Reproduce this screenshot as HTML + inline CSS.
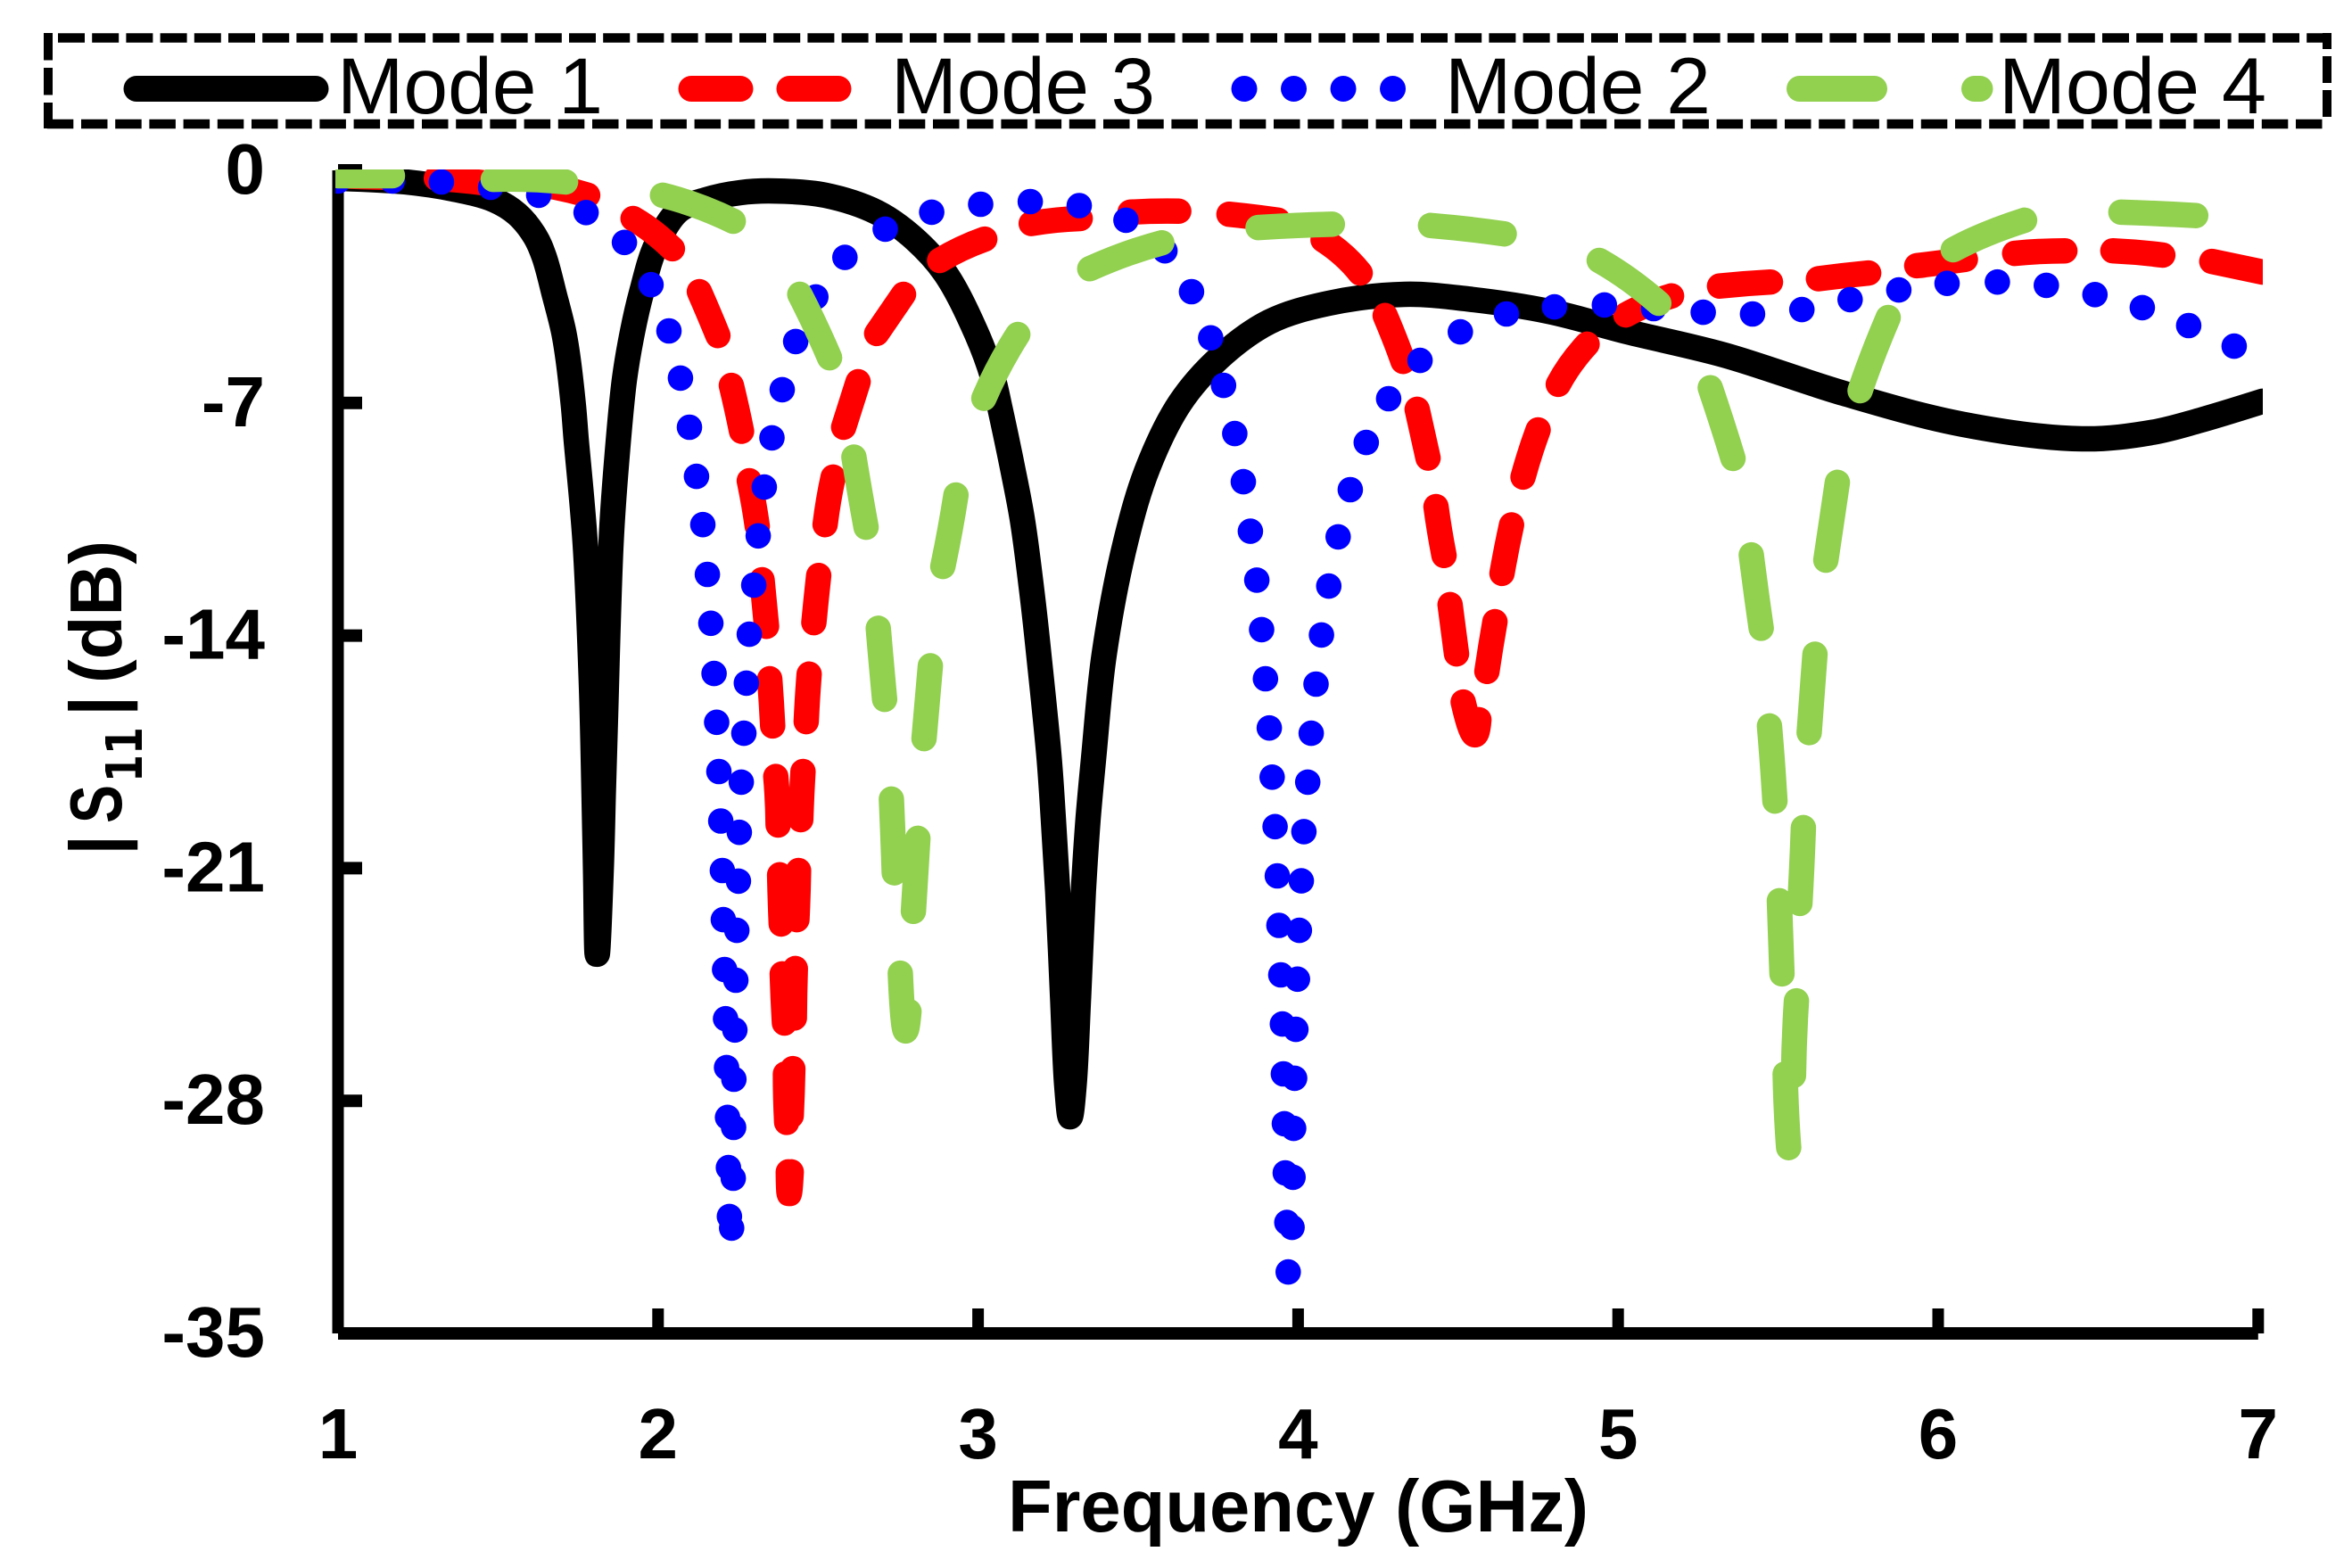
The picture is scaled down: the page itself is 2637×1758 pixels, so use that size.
<!DOCTYPE html>
<html lang="en">
<head>
<meta charset="utf-8">
<title>S11 versus frequency for four modes</title>
<style>
html,body{margin:0;padding:0;background:#fff;}
svg{display:block;}
text{font-family:"Liberation Sans",sans-serif;fill:#000;}
.legend-text{font-size:89px;}
.tick-text{font-size:80px;font-weight:bold;}
.title-text{font-size:83px;font-weight:bold;}
.sub-text{font-family:"DejaVu Sans",sans-serif;font-size:56px;font-weight:bold;}
</style>
</head>
<body>
<svg id="chart" xmlns="http://www.w3.org/2000/svg" width="2637" height="1758" viewBox="0 0 2637 1758">
  <defs>
    <clipPath id="plot-clip"><rect x="376" y="190" width="2161" height="1330"/></clipPath>
  </defs>
  <rect x="0" y="0" width="2637" height="1758" fill="#fff"/>

  <g id="axes"></g>
  <g id="series" clip-path="url(#plot-clip)"></g>

  <g>
    <line x1="65" y1="42.5" x2="2609" y2="42.5" stroke="#000" stroke-width="10.5" stroke-dasharray="30 8.2"/>
    <line x1="52.8" y1="139" x2="2608" y2="139" stroke="#000" stroke-width="10.5" stroke-dasharray="29.5 8.7"/>
    <line x1="54" y1="37" x2="54" y2="144" stroke="#000" stroke-width="10" stroke-dasharray="30.5 8.5"/>
    <line x1="2609" y1="37" x2="2609" y2="131" stroke="#000" stroke-width="10" stroke-dasharray="30 8" stroke-dashoffset="12"/>

    <g>
      <line x1="153" y1="99.5" x2="354" y2="99.5" stroke="#000" stroke-width="29" stroke-linecap="round"/>
      <text class="legend-text" x="378" y="127" textLength="298" lengthAdjust="spacingAndGlyphs">Mode 1</text>
    </g>
    <g>
      <line x1="775" y1="99.5" x2="976" y2="99.5" stroke="#f00" stroke-width="29" stroke-linecap="round" stroke-dasharray="55 55"/>
      <text class="legend-text" x="999" y="127" textLength="296" lengthAdjust="spacingAndGlyphs">Mode 3</text>
    </g>
    <g>
      <line x1="1395" y1="99.5" x2="1570" y2="99.5" stroke="#00f" stroke-width="29" stroke-linecap="round" stroke-dasharray="0.01 55.5"/>
      <text class="legend-text" x="1620" y="127" textLength="298" lengthAdjust="spacingAndGlyphs">Mode 2</text>
    </g>
    <g>
      <line x1="2017.5" y1="99.5" x2="2220" y2="99.5" stroke="#92d050" stroke-width="29" stroke-linecap="round" stroke-dasharray="84 112"/>
      <text class="legend-text" x="2241" y="127" textLength="300" lengthAdjust="spacingAndGlyphs">Mode 4</text>
    </g>
  </g>

  <text class="title-text" x="1130" y="1717" textLength="651" lengthAdjust="spacingAndGlyphs">Frequency (GHz)</text>

  <g transform="translate(136 953) rotate(-90)">
    <text class="title-text" x="-6" y="0">|</text>
    <text class="title-text" x="30" y="0" textLength="43" lengthAdjust="spacingAndGlyphs">S</text>
    <text class="sub-text" x="76" y="23" textLength="62" lengthAdjust="spacingAndGlyphs">11</text>
    <text class="title-text" x="150" y="0">|</text>
    <text class="title-text" x="187" y="0" textLength="160" lengthAdjust="spacingAndGlyphs">(dB)</text>
  </g>
</svg>

<script>
const SVG_NS = 'http://www.w3.org/2000/svg';

// Axis tick labels
const xTicks = [1, 2, 3, 4, 5, 6, 7];
const yTicks = [0, -7, -14, -21, -28, -35];

// Mode 1 (continuous curve): frequency in GHz, |S11| in dB
const mode1Freq = [1.000,1.212,1.360,1.488,1.560,1.616,1.644,1.677,1.705,1.719,1.736,1.744,1.772,1.791,1.800,1.805,1.810,1.822,1.829,1.836,1.853,1.870,1.895,1.920,1.949,1.995,2.065,2.148,2.257,2.363,2.522,2.683,2.789,2.895,2.993,3.046,3.068,3.105,3.138,3.167,3.191,3.222,3.235,3.249,3.264,3.277,3.288,3.300,3.314,3.329,3.344,3.361,3.394,3.462,3.531,3.631,3.754,3.910,4.096,4.333,4.531,4.782,5.030,5.332,5.705,6.075,6.449,6.672,6.819,7.014];
const mode1S11 = [-0.24,-0.35,-0.56,-0.89,-1.32,-1.99,-2.60,-3.78,-4.86,-5.69,-7.14,-8.08,-11.19,-15.27,-18.73,-21.15,-23.59,-21.15,-18.73,-16.35,-11.21,-8.80,-6.29,-4.86,-3.65,-2.23,-1.21,-0.89,-0.67,-0.62,-0.75,-1.26,-1.96,-3.06,-4.86,-6.23,-7.14,-8.83,-10.49,-12.59,-14.68,-17.69,-19.49,-21.71,-24.85,-27.54,-28.48,-27.54,-24.85,-21.71,-19.49,-17.69,-14.56,-11.14,-8.94,-7.00,-5.64,-4.56,-4.00,-3.73,-3.87,-4.24,-4.86,-5.56,-6.71,-7.64,-8.08,-7.88,-7.52,-6.95];

// Mode 2 (dotted curve): one entry per visible dot
const mode2Freq = [1.000,1.170,1.323,1.477,1.627,1.775,1.895,1.978,2.034,2.070,2.098,2.120,2.140,2.154,2.165,2.175,2.183,2.190,2.196,2.201,2.204,2.208,2.211,2.214,2.217,2.220,2.223,2.230,2.235,2.236,2.237,2.240,2.243,2.246,2.251,2.254,2.260,2.268,2.276,2.285,2.299,2.313,2.332,2.356,2.388,2.430,2.493,2.584,2.710,2.855,3.008,3.163,3.316,3.462,3.584,3.667,3.727,3.767,3.802,3.829,3.851,3.871,3.886,3.898,3.910,3.919,3.928,3.935,3.940,3.946,3.951,3.954,3.957,3.960,3.965,3.969,3.981,3.984,3.986,3.989,3.993,3.998,4.004,4.010,4.018,4.030,4.041,4.056,4.073,4.096,4.125,4.163,4.213,4.283,4.381,4.507,4.651,4.801,4.957,5.111,5.266,5.420,5.574,5.725,5.877,6.028,6.185,6.338,6.490,6.638,6.783,6.925];
const mode2S11 = [-0.32,-0.32,-0.35,-0.51,-0.75,-1.27,-2.17,-3.44,-4.83,-6.25,-7.73,-9.21,-10.66,-12.16,-13.63,-15.14,-16.61,-18.09,-19.58,-21.07,-22.55,-24.05,-25.53,-27.00,-28.50,-30.01,-31.48,-31.83,-30.33,-28.80,-27.35,-25.87,-24.37,-22.87,-21.39,-19.92,-18.41,-16.94,-15.43,-13.96,-12.48,-11.00,-9.53,-8.05,-6.60,-5.15,-3.81,-2.62,-1.77,-1.26,-1.02,-0.94,-1.06,-1.50,-2.42,-3.65,-5.04,-6.47,-7.92,-9.37,-10.86,-12.33,-13.82,-15.30,-16.78,-18.26,-19.75,-21.23,-22.72,-24.21,-25.69,-27.19,-28.69,-30.17,-31.66,-33.15,-31.81,-30.30,-28.83,-27.32,-25.85,-24.34,-22.87,-21.38,-19.90,-18.41,-16.94,-15.46,-13.98,-12.51,-11.03,-9.61,-8.19,-6.87,-5.72,-4.86,-4.32,-4.11,-4.05,-4.16,-4.27,-4.32,-4.19,-3.89,-3.60,-3.40,-3.36,-3.46,-3.74,-4.13,-4.67,-5.29];

// Mode 3 (dashed curve): three samples per visible dash (start, middle, end)
const mode3Freq = [1.000,1.075,1.153,1.307,1.385,1.460,1.630,1.705,1.780,1.922,1.984,2.045,2.129,2.159,2.187,2.229,2.246,2.261,2.285,2.299,2.310,2.325,2.332,2.339,2.349,2.354,2.358,2.368,2.373,2.375,2.380,2.382,2.385,2.388,2.391,2.395,2.398,2.399,2.402,2.407,2.410,2.416,2.416,2.419,2.421,2.426,2.427,2.429,2.434,2.437,2.439,2.446,2.449,2.453,2.463,2.467,2.472,2.487,2.494,2.502,2.522,2.533,2.547,2.580,2.603,2.625,2.683,2.725,2.767,2.880,2.948,3.021,3.166,3.241,3.319,3.475,3.550,3.627,3.784,3.859,3.937,4.078,4.141,4.194,4.272,4.303,4.328,4.372,4.389,4.406,4.431,4.442,4.456,4.475,4.485,4.495,4.516,4.548,4.565,4.590,4.602,4.615,4.637,4.651,4.667,4.703,4.725,4.750,4.813,4.853,4.903,5.024,5.091,5.167,5.317,5.397,5.476,5.626,5.704,5.783,5.933,6.008,6.085,6.239,6.318,6.396,6.546,6.624,6.702,6.855,6.934,7.014];
const mode3S11 = [-0.16,-0.19,-0.21,-0.24,-0.30,-0.38,-0.43,-0.56,-0.75,-1.45,-1.85,-2.36,-3.65,-4.32,-4.97,-6.47,-7.17,-7.85,-9.34,-10.04,-10.71,-12.32,-13.02,-13.72,-15.30,-16.02,-16.72,-18.24,-18.98,-19.70,-21.20,-21.93,-22.68,-24.18,-24.93,-25.66,-27.19,-27.91,-28.65,-30.14,-30.79,-30.14,-28.45,-27.75,-27.03,-25.51,-24.77,-24.02,-22.55,-21.82,-21.07,-19.54,-18.81,-18.09,-16.59,-15.86,-15.16,-13.61,-12.91,-12.19,-10.66,-9.93,-9.23,-7.73,-7.03,-6.36,-4.91,-4.32,-3.73,-2.71,-2.36,-2.07,-1.60,-1.50,-1.45,-1.26,-1.23,-1.23,-1.32,-1.40,-1.50,-2.09,-2.55,-3.09,-4.37,-5.10,-5.75,-7.19,-7.92,-8.66,-10.12,-10.84,-11.59,-13.07,-13.80,-14.55,-16.00,-16.96,-16.53,-15.08,-14.33,-13.58,-12.13,-11.41,-10.67,-9.23,-8.51,-7.81,-6.44,-5.82,-5.23,-4.35,-4.04,-3.78,-3.48,-3.41,-3.36,-3.26,-3.17,-3.09,-2.87,-2.78,-2.68,-2.50,-2.44,-2.42,-2.42,-2.47,-2.55,-2.74,-2.90,-3.06];

// Mode 4 (long-dashed curve): three samples per visible dash (start, middle, end)
const mode4Freq = [1.000,1.086,1.170,1.485,1.596,1.711,2.014,2.123,2.235,2.443,2.491,2.536,2.612,2.630,2.650,2.688,2.698,2.708,2.729,2.734,2.738,2.757,2.770,2.784,2.798,2.805,2.812,2.831,2.841,2.851,2.890,2.912,2.931,3.018,3.067,3.124,3.349,3.462,3.574,3.875,3.990,4.107,4.414,4.531,4.644,4.941,5.036,5.127,5.288,5.325,5.359,5.416,5.431,5.447,5.473,5.482,5.490,5.504,5.508,5.512,5.522,5.526,5.533,5.548,5.551,5.557,5.568,5.574,5.579,5.597,5.606,5.615,5.649,5.667,5.685,5.756,5.797,5.844,6.047,6.150,6.270,6.571,6.686,6.805];
const mode4S11 = [-0.16,-0.16,-0.16,-0.27,-0.27,-0.35,-0.75,-1.07,-1.53,-3.73,-4.67,-5.64,-8.63,-9.66,-10.74,-13.78,-14.87,-15.92,-18.92,-20.05,-21.14,-24.16,-25.82,-25.31,-22.30,-21.20,-20.10,-17.10,-16.00,-14.91,-11.92,-10.84,-9.77,-6.86,-5.88,-4.94,-2.96,-2.52,-2.18,-1.72,-1.66,-1.62,-1.66,-1.77,-1.91,-2.71,-3.30,-4.00,-6.54,-7.62,-8.67,-11.57,-12.68,-13.78,-16.72,-17.82,-18.98,-21.98,-23.06,-24.18,-27.19,-28.32,-29.41,-27.24,-26.12,-24.99,-22.06,-20.94,-19.78,-16.92,-15.76,-14.56,-11.73,-10.55,-9.39,-6.63,-5.54,-4.43,-2.39,-1.92,-1.50,-1.26,-1.30,-1.36];

// Axis functions
function xScale(f) { return 379 + (f - 1) * 358.8; }
function yScale(db) { return 191 - db * 37.257; }

const axesGroup = document.getElementById('axes');
const seriesGroup = document.getElementById('series');

function make(tag, parent, props) {
  const el = document.createElementNS(SVG_NS, tag);
  for (const key in props) el.setAttribute(key, props[key]);
  parent.appendChild(el);
  return el;
}

// Axis lines
const yAxisLine = make('line', axesGroup, {x1: xScale(1), y1: yScale(0), x2: xScale(1), y2: yScale(-35), stroke: '#000', 'stroke-width': 13});


const xAxisLine = make('line', axesGroup, {x1: xScale(1), y1: yScale(-35), x2: xScale(7), y2: yScale(-35), stroke: '#000', 'stroke-width': 14});



// X ticks and labels
xTicks.forEach(function (t) {
  const tick = make('line', axesGroup, {x1: xScale(t), y1: yScale(-35) - 28, x2: xScale(t), y2: yScale(-35), stroke: '#000', 'stroke-width': 13});
  
  
  const label = make('text', axesGroup, {x: xScale(t), y: 1635, 'text-anchor': 'middle', class: 'tick-text'});
  
  
  label.textContent = String(t);
});

// Y ticks and labels
yTicks.forEach(function (t) {
  const tick = make('line', axesGroup, {x1: xScale(1), y1: yScale(t), x2: 406, y2: yScale(t), stroke: '#000', 'stroke-width': 14});
  
  
  const label = make('text', axesGroup, {x: 297, y: yScale(t) + 26, 'text-anchor': 'end', class: 'tick-text'});
  
  
  label.textContent = String(t);
});

// Centripetal Catmull-Rom spline through a curve's samples
function smoothPath(xs, ys) {
  const n = xs.length;
  const dist = function (i, j) {
    return Math.max(0.01, Math.hypot(xs[j] - xs[i], ys[j] - ys[i]));
  };
  let d = 'M' + xs[0].toFixed(1) + ' ' + ys[0].toFixed(1);
  for (let i = 0; i < n - 1; i++) {
    const a = i > 0 ? i - 1 : i, b = i, c = i + 1, e = i + 2 < n ? i + 2 : i + 1;
    let c1x = xs[b], c1y = ys[b], c2x = xs[c], c2y = ys[c];
    const d2sq = dist(b, c), d2 = Math.sqrt(d2sq);
    if (a !== b) {
      const d1sq = dist(a, b), d1 = Math.sqrt(d1sq);
      const k = 2 * d1sq + 3 * d1 * d2 + d2sq, den = 3 * d1 * (d1 + d2);
      c1x = (d1sq * xs[c] - d2sq * xs[a] + k * xs[b]) / den;
      c1y = (d1sq * ys[c] - d2sq * ys[a] + k * ys[b]) / den;
    }
    if (e !== c) {
      const d3sq = dist(c, e), d3 = Math.sqrt(d3sq);
      const k = 2 * d3sq + 3 * d3 * d2 + d2sq, den = 3 * d3 * (d3 + d2);
      c2x = (d3sq * xs[b] - d2sq * xs[e] + k * xs[c]) / den;
      c2y = (d3sq * ys[b] - d2sq * ys[e] + k * ys[c]) / den;
    }
    d += 'C' + c1x.toFixed(1) + ' ' + c1y.toFixed(1) + ' ' + c2x.toFixed(1) + ' ' + c2y.toFixed(1) + ' ' + xs[c].toFixed(1) + ' ' + ys[c].toFixed(1);
  }
  return d;
}

// One smooth stroke per dash, passing through its three samples
function dashPath(freq, s11) {
  let d = '';
  for (let i = 0; i + 2 < freq.length; i += 3) {
    const x0 = xScale(freq[i]), y0 = yScale(s11[i]);
    const x1 = xScale(freq[i + 1]), y1 = yScale(s11[i + 1]);
    const x2 = xScale(freq[i + 2]), y2 = yScale(s11[i + 2]);
    const cx = 2 * x1 - (x0 + x2) / 2, cy = 2 * y1 - (y0 + y2) / 2;
    d += 'M' + x0.toFixed(1) + ' ' + y0.toFixed(1) + 'Q' + cx.toFixed(1) + ' ' + cy.toFixed(1) + ' ' + x2.toFixed(1) + ' ' + y2.toFixed(1);
  }
  return d;
}

// Mode 1 (bottom layer)
const mode1Line = make('path', seriesGroup, {d: smoothPath(mode1Freq.map(xScale), mode1S11.map(yScale)), fill: 'none', stroke: '#000', 'stroke-width': 28.5, 'stroke-linecap': 'round', 'stroke-linejoin': 'round'});



// Mode 3
const mode3Line = make('path', seriesGroup, {d: dashPath(mode3Freq, mode3S11), fill: 'none', stroke: '#f00', 'stroke-width': 28.5, 'stroke-linecap': 'round', 'stroke-linejoin': 'round'});



// Mode 2
const mode2Group = make('g', seriesGroup, {fill: '#00f'});


mode2Freq.forEach(function (f, i) {
  const dot = make('circle', mode2Group, {cx: xScale(f).toFixed(1), cy: yScale(mode2S11[i]).toFixed(1), r: 14.3});
  
  
});

// Mode 4 (top layer)
const mode4Line = make('path', seriesGroup, {d: dashPath(mode4Freq, mode4S11), fill: 'none', stroke: '#92d050', 'stroke-width': 28.5, 'stroke-linecap': 'round', 'stroke-linejoin': 'round'});


</script>
</body>
</html>
